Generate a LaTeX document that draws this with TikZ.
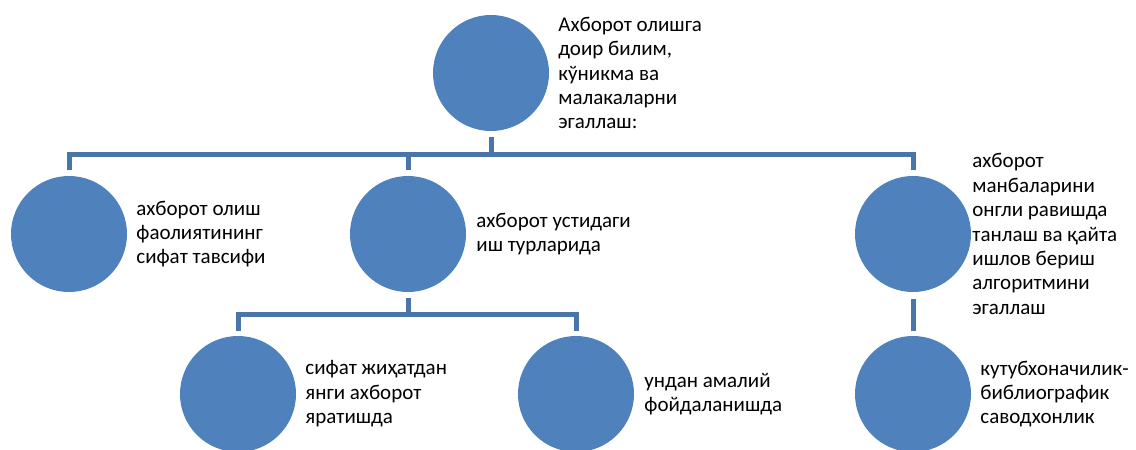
\documentclass[tikz,border=0pt]{standalone}
\usepackage{fontspec}
\setmainfont{Carlito}
\usetikzlibrary{positioning}
\definecolor{ballblue}{HTML}{4F81BD}
\definecolor{linkblue}{HTML}{4A75A8}
\tikzset{
  ball/.style={circle, fill=ballblue, minimum size=116pt, inner sep=0pt},
  note/.style={align=left, inner sep=0pt, font=\fontsize{21}{24.4}\selectfont},
  link/.style={draw=linkblue, line width=5pt}
}
\begin{document}
\begin{tikzpicture}[x=1pt, y=-1pt]
    \useasboundingbox (0,0) rectangle (1136,450);

    % Top circle
    \node[ball] (top) at (491,73) {};
    \node[note, right=9pt of top] (toptext) {Ахборот олишга\\доир билим,\\кўникма ва\\малакаларни\\эгаллаш:};

    % Second row
    \node[ball] (left) at (69,234) {};
    \node[ball] (mid) at (408,234) {};
    \node[ball] (right) at (913,234) {};
    \node[note, right=9pt of left] (lefttext) {ахборот олиш\\фаолиятининг\\сифат тавсифи};
    \node[note, right=10pt of mid] (midtext) {ахборот устидаги\\иш турларида};
    \node[note, right=1pt of right] (righttext) {ахборот\\манбаларини\\онгли равишда\\танлаш ва қайта\\ишлов бериш\\алгоритмини\\эгаллаш};

    % Bottom row
    \node[ball] (newinfo) at (238,394) {};
    \node[ball] (usage) at (576,394) {};
    \node[ball] (library) at (913,394) {};
    \node[note, right=9pt of newinfo] (newinfotext) {сифат жиҳатдан\\янги ахборот\\яратишда};
    \node[note, right=10pt of usage] (usagetext) {ундан амалий\\фойдаланишда};
    \node[note, right=9pt of library] (librarytext) {кутубхоначилик-\\библиографик\\саводхонлик};

    % Connectors
    \coordinate (bar1) at ([yshift=21pt]left.north);
    \coordinate (bar2) at ([yshift=21pt]newinfo.north);
    \draw[link] ([yshift=-6pt]top.south) -- (top |- bar1);
    \draw[link] ([yshift=6pt]left.north) |- (bar1 -| right) -- ([yshift=6pt]right.north);
    \draw[link] ([yshift=6pt]mid.north) -- (mid |- bar1);
    \draw[link] ([yshift=-6pt]mid.south) -- (mid |- bar2);
    \draw[link] ([yshift=5pt]newinfo.north) |- (bar2 -| usage) -- ([yshift=5pt]usage.north);
    \draw[link] ([yshift=-7pt]right.south) -- ([yshift=5pt]library.north);

\end{tikzpicture}
\end{document}
